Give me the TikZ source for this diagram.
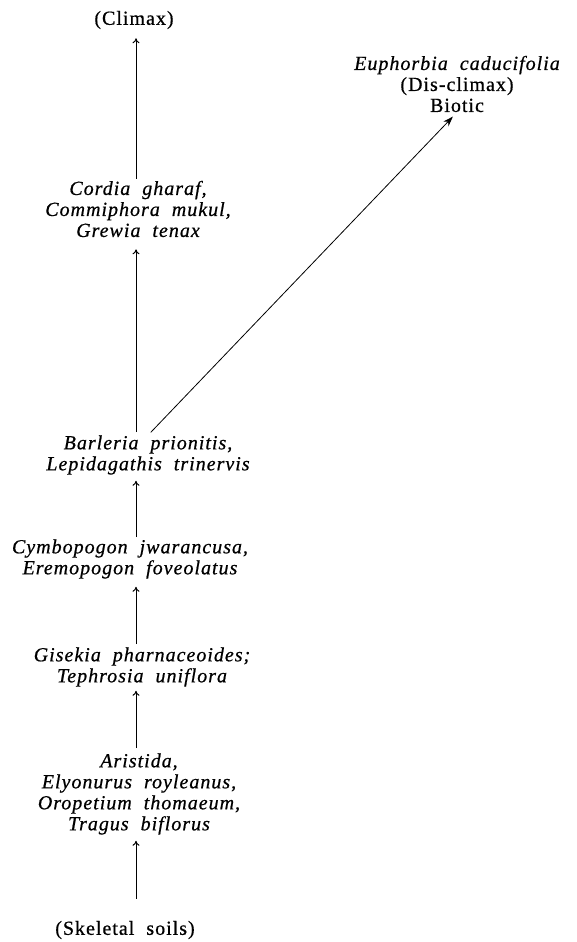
\documentclass[tikz,border=0pt]{standalone}
\usepackage{fontspec}
\setmainfont{Liberation Serif}[LetterSpace=5,WordSpace=2.0,FakeBold=0.6]
\usetikzlibrary{arrows.meta}
\begin{document}
\begin{tikzpicture}[x=1pt,y=-1pt,
  lbl/.style={inner sep=0pt, align=center, font=\fontsize{20}{21}\selectfont},
  sp/.style={inner sep=0pt, align=center, font=\fontsize{20}{21}\selectfont\itshape},
  arr/.style={line width=1pt, -{To[length=5pt,width=7pt]}},
  arrb/.style={line width=0.8pt, -{Stealth[length=10pt,width=7pt]}},
  ]
\useasboundingbox (0,0) rectangle (577,942);
\coordinate (axis) at (136,0);
\node[lbl] (climax) at (134,20) {(Climax)};
\node[sp] (euph) at (457,84) {Euphorbia caducifolia\\\upshape (Dis-climax)\\\upshape Biotic};
\node[sp] (cordia) at (138,209) {Cordia gharaf,\\Commiphora mukul,\\Grewia tenax};
\node[sp] (barleria) at (148,455) {Barleria prionitis,\\Lepidagathis trinervis};
\node[sp] (cymbo) at (130,559) {Cymbopogon jwarancusa,\\Eremopogon foveolatus};
\node[sp] (gisekia) at (142,667) {Gisekia pharnaceoides;\\Tephrosia uniflora};
\node[sp] (aristida) at (139,794) {Aristida,\\Elyonurus royleanus,\\Oropetium thomaeum,\\Tragus biflorus};
\node[lbl] (skeletal) at (125,930) {(Skeletal soils)};

\draw[arr, shorten <=22pt, shorten >=6pt] (skeletal.north -| axis) -- (aristida.south -| axis);
\draw[arr, shorten <=5pt, shorten >=4pt] (aristida.north -| axis) -- (gisekia.south -| axis);
\draw[arr, shorten <=3pt, shorten >=8pt] (gisekia.north -| axis) -- (cymbo.south -| axis);
\draw[arr, shorten <=2pt, shorten >=6pt] (cymbo.north -| axis) -- (barleria.south -| axis);
\draw[arr, shorten <=3pt, shorten >=12pt] (barleria.north -| axis) -- (cordia.south -| axis);
\draw[arr, shorten <=2pt, shorten >=9pt] (cordia.north -| axis) -- (climax.south -| axis);
\draw[arrb, shorten <=4pt, shorten >=6pt] (barleria.north) -- (euph.south);
\end{tikzpicture}
\end{document}
